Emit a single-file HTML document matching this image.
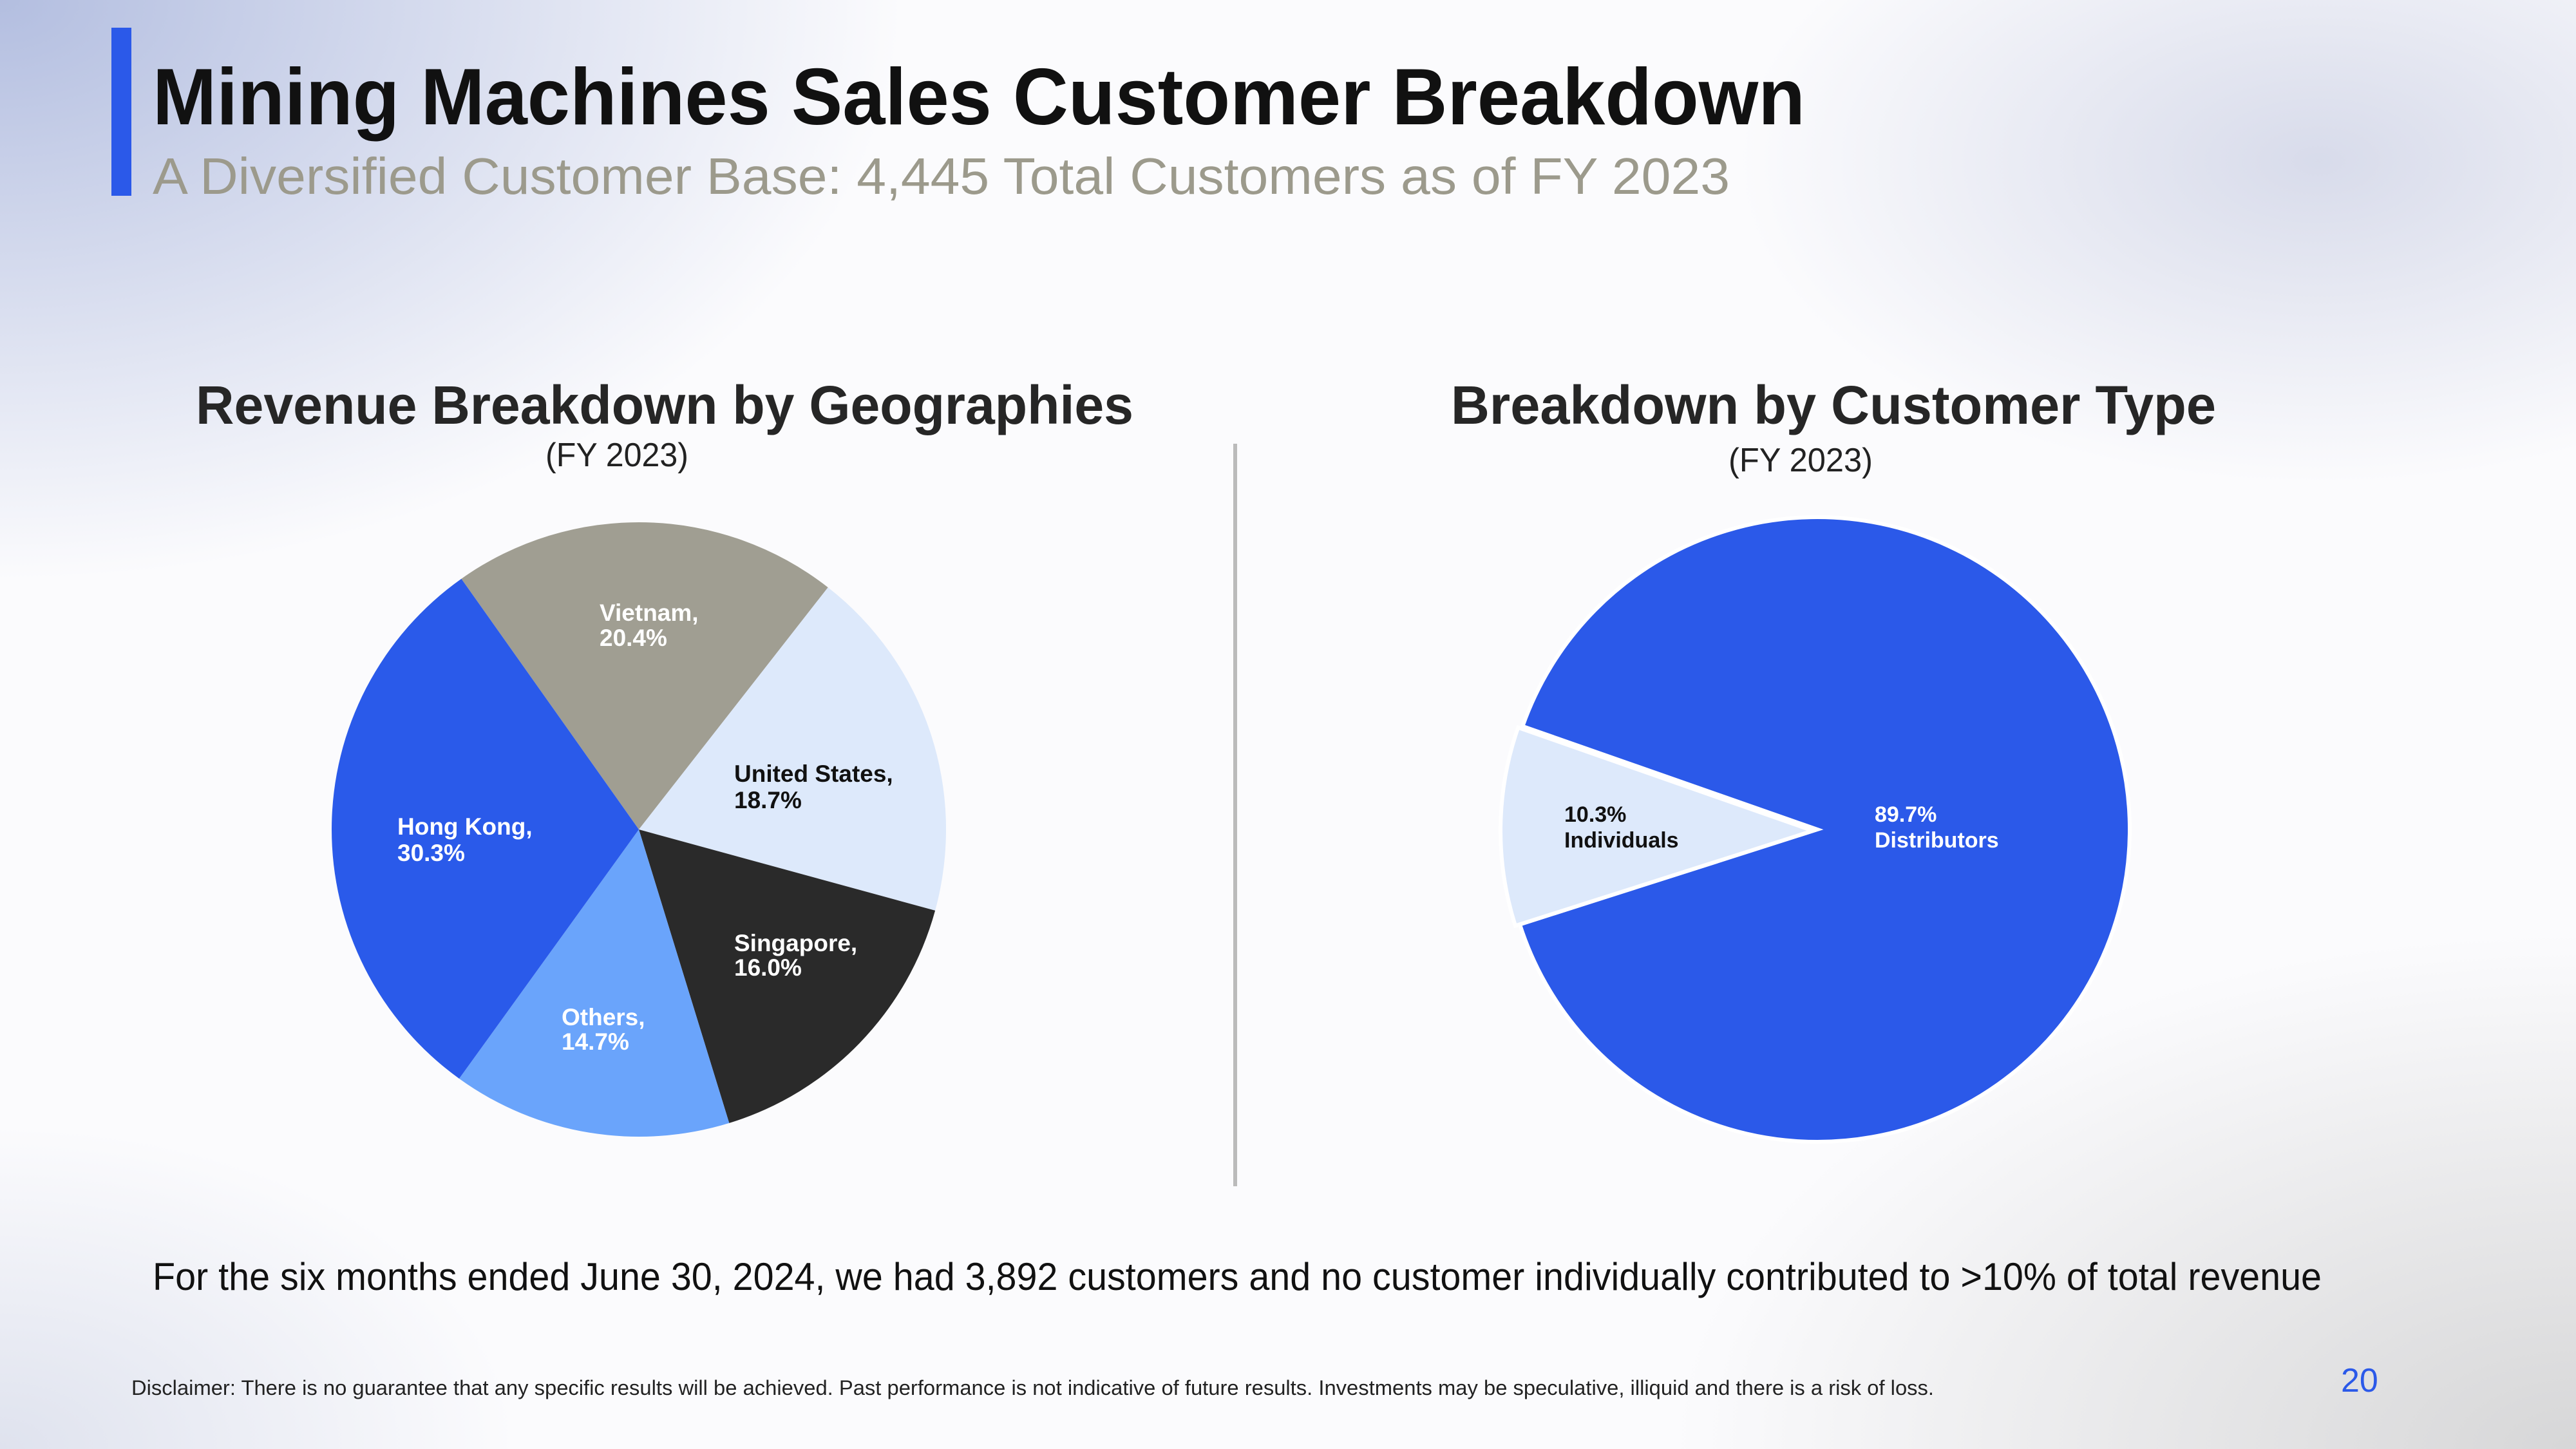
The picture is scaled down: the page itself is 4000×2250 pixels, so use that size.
<!DOCTYPE html>
<html><head><meta charset="utf-8"><style>
html,body{margin:0;padding:0;width:4000px;height:2250px;overflow:hidden}
body{background:
radial-gradient(ellipse 1400px 900px at 0px 0px, rgba(120,140,200,0.55), rgba(120,140,200,0) 100%),
radial-gradient(ellipse 900px 500px at 3600px 250px, rgba(150,160,200,0.35), rgba(150,160,200,0) 100%),
radial-gradient(ellipse 1400px 800px at 4000px 2250px, rgba(170,170,170,0.45), rgba(170,170,170,0) 100%),
radial-gradient(ellipse 800px 500px at 0px 2250px, rgba(170,180,210,0.35), rgba(170,180,210,0) 100%),
#fbfbfd;font-family:"Liberation Sans",sans-serif}
svg{position:absolute;left:0;top:0}
</style></head><body>
<svg width="4000" height="2250" viewBox="0 0 4000 2250" xmlns="http://www.w3.org/2000/svg" font-family="Liberation Sans, sans-serif">
<rect x="173" y="43" width="31" height="261" fill="#2b59e9"/>
<text x="237" y="193" font-size="124" font-weight="bold" fill="#111" textLength="2566" lengthAdjust="spacingAndGlyphs">Mining Machines Sales Customer Breakdown</text>
<text x="237" y="301" font-size="80" fill="#9c9a8c" textLength="2449" lengthAdjust="spacingAndGlyphs">A Diversified Customer Base: 4,445 Total Customers as of FY 2023</text>
<text x="304" y="658" font-size="84" font-weight="bold" fill="#262626" textLength="1456" lengthAdjust="spacingAndGlyphs">Revenue Breakdown by Geographies</text>
<text x="2253" y="658" font-size="84" font-weight="bold" fill="#262626" textLength="1188" lengthAdjust="spacingAndGlyphs">Breakdown by Customer Type</text>
<text x="847" y="724" font-size="52" fill="#222" textLength="222" lengthAdjust="spacingAndGlyphs">(FY 2023)</text>
<text x="2684" y="732" font-size="52" fill="#222" textLength="224" lengthAdjust="spacingAndGlyphs">(FY 2023)</text>
<line x1="1918" y1="689" x2="1918" y2="1842" stroke="#bbb" stroke-width="6"/>
<g id="pies"></g>
<g font-size="37" font-weight="bold">
<text x="931" y="964" fill="#fff">Vietnam,</text><text x="931" y="1003" fill="#fff">20.4%</text>
<text x="1140" y="1214" fill="#111">United States,</text><text x="1140" y="1255" fill="#111">18.7%</text>
<text x="617" y="1296" fill="#fff">Hong Kong,</text><text x="617" y="1337" fill="#fff">30.3%</text>
<text x="1140" y="1477" fill="#fff">Singapore,</text><text x="1140" y="1515" fill="#fff">16.0%</text>
<text x="872" y="1592" fill="#fff">Others,</text><text x="872" y="1630" fill="#fff">14.7%</text>
<text x="2429" y="1276" fill="#111" font-size="34">10.3%</text><text x="2429" y="1316" fill="#111" font-size="34">Individuals</text>
<text x="2911" y="1276" fill="#fff" font-size="34">89.7%</text><text x="2911" y="1316" fill="#fff" font-size="34">Distributors</text>
</g>
<text x="237" y="2003" font-size="60" fill="#111" textLength="3368" lengthAdjust="spacingAndGlyphs">For the six months ended June 30, 2024,  we had 3,892 customers and no customer individually contributed to &gt;10% of total revenue</text>
<text x="204" y="2166" font-size="32" fill="#222" textLength="2799" lengthAdjust="spacingAndGlyphs">Disclaimer: There is no guarantee that any specific results will be achieved. Past performance is not indicative of future results. Investments may be speculative, illiquid and there is a risk of loss.</text>
<text x="3635" y="2161" font-size="52" fill="#2b59e9">20</text>
</svg>
<script>
function pt(cx,cy,r,a){var t=a*Math.PI/180;return [cx+r*Math.sin(t),cy-r*Math.cos(t)];}
function slice(cx,cy,r,a0,a1,fill,stroke,sw){
var p0=pt(cx,cy,r,a0),p1=pt(cx,cy,r,a1),lg=(a1-a0)>180?1:0;
return '<path d="M'+cx+' '+cy+' L'+p0[0].toFixed(1)+' '+p0[1].toFixed(1)+' A'+r+' '+r+' 0 '+lg+' 1 '+p1[0].toFixed(1)+' '+p1[1].toFixed(1)+' Z" fill="'+fill+'" stroke="'+(stroke||'none')+'" stroke-width="'+(sw||0)+'"/>';}
var s='',cx=992,cy=1288,r=477;
var d=[[-35.3,38,'#a09e92'],[38,105.3,'#dde9fb'],[105.3,162.9,'#2a2a2a'],[162.9,215.8,'#6aa4fb'],[215.8,324.7,'#2a5aea']];
d.forEach(function(x){s+=slice(cx,cy,r,x[0],x[1],x[2]);});
s+=slice(2822,1288,485,-70.7,252.3,'#2b59e9','#fff',6);
s+=slice(2815,1290,485,252.3,289.3,'#dde9fb','#fff',6);
document.getElementById('pies').innerHTML=s;
</script>
</body></html>
